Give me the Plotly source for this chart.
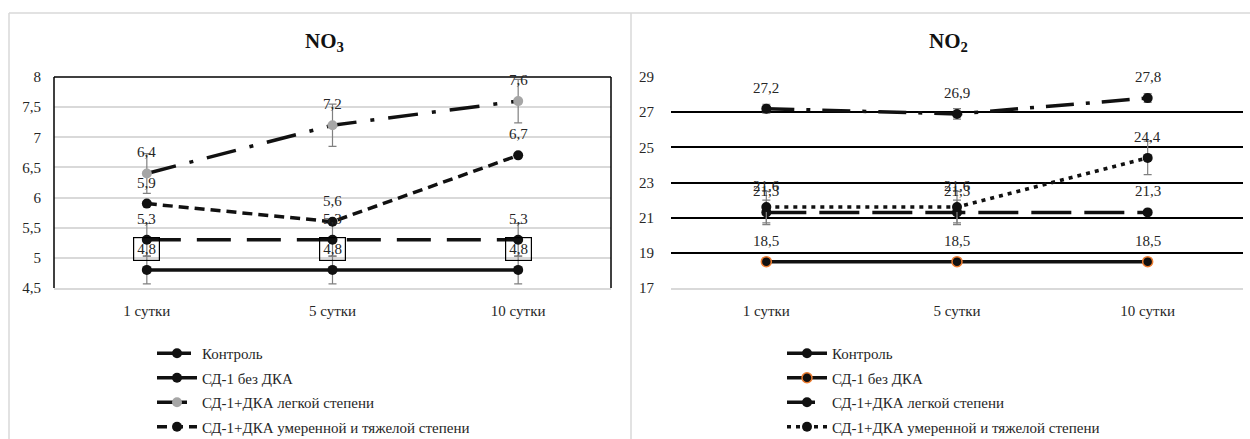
import plotly.graph_objects as go

categories = ["1 сутки", "5 сутки", "10 сутки"]
series_names = ["Контроль", "СД-1 без ДКА", "СД-1+ДКА легкой степени",
                "СД-1+ДКА умеренной и тяжелой степени"]

# NO3 panel
no3_control = [5.3, 5.3, 5.3]
no3_sd1 = [4.8, 4.8, 4.8]
no3_light = [6.4, 7.2, 7.6]
no3_severe = [5.9, 5.6, 6.7]
no3_control_err = [0.27, 0.27, 0.27]
no3_sd1_err = [0.23, 0.23, 0.23]
no3_light_err = [0.33, 0.35, 0.36]
no3_severe_err = [0, 0, 0]

# NO2 panel
no2_control = [21.3, 21.3, 21.3]
no2_sd1 = [18.5, 18.5, 18.5]
no2_light = [27.2, 26.9, 27.8]
no2_severe = [21.6, 21.6, 24.4]
no2_control_err = [0.7, 0.7, 0.1]
no2_sd1_err = [0, 0, 0]
no2_light_err = [0.25, 0.3, 0.25]
no2_severe_err = [0.9, 0.9, 0.95]

W, H = 1250, 439
FONT = "Liberation Serif"
BLACK = "#111111"
GRAY_ERR = "#808080"
TXT = "#262626"


def fmt(v):
    return f"{v:.1f}".replace(".", ",")


fig = go.Figure()


def add_series(y, err, name, xa, ya, legend, dash, mcolor, mline=None):
    fig.add_trace(go.Scatter(
        x=categories, y=y, name=name, xaxis=xa, yaxis=ya, legend=legend,
        mode="lines+markers",
        line=dict(color=BLACK, width=3.5, dash=dash),
        marker=dict(size=10, color=mcolor,
                    line=dict(color=mline or mcolor, width=1.5 if mline else 0)),
        error_y=dict(type="data", array=err, visible=True, color=GRAY_ERR,
                     thickness=1.2, width=4),
        legendgroup=name + legend, cliponaxis=False,
    ))


# left panel
add_series(no3_control, no3_control_err, series_names[0], "x", "y", "legend", "34px,16px", BLACK)
add_series(no3_sd1, no3_sd1_err, series_names[1], "x", "y", "legend", "solid", BLACK)
add_series(no3_light, no3_light_err, series_names[2], "x", "y", "legend", "30px,14px,4px,14px", "#a6a6a6")
add_series(no3_severe, no3_severe_err, series_names[3], "x", "y", "legend", "10px,6px", BLACK)

# right panel
add_series(no2_control, no2_control_err, series_names[0], "x2", "y2", "legend2", "40px,13px", BLACK)
add_series(no2_sd1, no2_sd1_err, series_names[1], "x2", "y2", "legend2", "solid", BLACK, "#ED7D31")
add_series(no2_light, no2_light_err, series_names[2], "x2", "y2", "legend2", "28px,12px,4px,12px", BLACK)
add_series(no2_severe, no2_severe_err, series_names[3], "x2", "y2", "legend2", "4px,5px", BLACK)

annotations = []


def add_labels(vals, xref, yref, boxed=False):
    for c, v in zip(categories, vals):
        a = dict(x=c, y=v, xref=xref, yref=yref, text=fmt(v), showarrow=False,
                 xanchor="center", yanchor="middle", yshift=21,
                 font=dict(family=FONT, size=15, color=TXT))
        if boxed:
            a.update(bordercolor="#000000", borderwidth=1.2, borderpad=3,
                     bgcolor="rgba(255,255,255,0)")
        annotations.append(a)


add_labels(no3_control, "x", "y")
add_labels(no3_sd1, "x", "y", boxed=True)
add_labels(no3_light, "x", "y")
add_labels(no3_severe, "x", "y")
add_labels(no2_control, "x2", "y2")
add_labels(no2_sd1, "x2", "y2")
add_labels(no2_light, "x2", "y2")
add_labels(no2_severe, "x2", "y2")

annotations.append(dict(x=0.485, y=1 - 42 / H, xref="x domain", yref="paper",
                        xanchor="center", yanchor="middle",
                        text="<b>NO<sub>3</sub></b>", showarrow=False,
                        font=dict(family=FONT, size=21, color="#111111")))
annotations.append(dict(x=0.485, y=1 - 42 / H, xref="x2 domain", yref="paper",
                        xanchor="center", yanchor="middle",
                        text="<b>NO<sub>2</sub></b>", showarrow=False,
                        font=dict(family=FONT, size=21, color="#111111")))

ydom = [1 - 288 / H, 1 - 77 / H]
tickfont = dict(family=FONT, size=15, color=TXT)

shapes = [
    # outer frame
    dict(type="line", xref="paper", yref="paper", x0=9 / W, x1=1, y0=1 - 13 / H, y1=1 - 13 / H,
         line=dict(color="#d9d9d9", width=1.5)),
    dict(type="line", xref="paper", yref="paper", x0=9 / W, x1=9 / W, y0=0, y1=1 - 13 / H,
         line=dict(color="#d9d9d9", width=1.5)),
    dict(type="line", xref="paper", yref="paper", x0=631 / W, x1=631 / W, y0=0, y1=1 - 13 / H,
         line=dict(color="#d9d9d9", width=1.5)),
    # left plot area border: left, top, right
    dict(type="line", xref="x domain", yref="y domain", x0=0, x1=0, y0=0, y1=1,
         line=dict(color="#000000", width=1.5)),
    dict(type="line", xref="x domain", yref="y domain", x0=0, x1=1, y0=1, y1=1,
         line=dict(color="#000000", width=1.5)),
    dict(type="line", xref="x domain", yref="y domain", x0=1, x1=1, y0=0, y1=1,
         line=dict(color="#000000", width=1.5)),
]

axis_common = dict(automargin=False, zeroline=False, tickfont=tickfont,
                   ticks="outside", tickcolor="rgba(0,0,0,0)")

fig.update_layout(
    width=W, height=H,
    margin=dict(l=0, r=0, t=0, b=0, pad=0, autoexpand=False),
    paper_bgcolor="white", plot_bgcolor="white",
    font=dict(family=FONT, size=14, color=TXT),
    xaxis=dict(domain=[54 / W, 611 / W], anchor="y", type="category",
               categoryorder="array", categoryarray=categories,
               range=[-0.5, 2.5], showgrid=False, ticklen=8,
               showline=True, linecolor="#d9d9d9", linewidth=1.5, **axis_common),
    yaxis=dict(domain=ydom, anchor="x", range=[4.5, 8],
               tickvals=[4.5, 5, 5.5, 6, 6.5, 7, 7.5, 8],
               ticktext=["4,5", "5", "5,5", "6", "6,5", "7", "7,5", "8"],
               showgrid=True, gridcolor="#d9d9d9", gridwidth=1.5, ticklen=9,
               **axis_common),
    xaxis2=dict(domain=[671 / W, 1243 / W], anchor="y2", type="category",
                categoryorder="array", categoryarray=categories,
                range=[-0.5, 2.5], showgrid=False, ticklen=8,
                showline=True, linecolor="#d9d9d9", linewidth=2, **axis_common),
    yaxis2=dict(domain=ydom, anchor="x2", range=[17, 29],
                tickvals=[17, 19, 21, 23, 25, 27, 29],
                showgrid=True, gridcolor="#000000", gridwidth=1.5, ticklen=13,
                **axis_common),
    legend=dict(x=152 / W, y=1 - 337 / H, xanchor="left", yanchor="top",
                font=dict(family=FONT, size=15, color=TXT),
                itemwidth=40, tracegroupgap=2, traceorder="grouped",
                bgcolor="rgba(0,0,0,0)"),
    legend2=dict(x=782 / W, y=1 - 337 / H, xanchor="left", yanchor="top",
                 font=dict(family=FONT, size=15, color=TXT),
                 itemwidth=40, tracegroupgap=2, traceorder="grouped",
                 bgcolor="rgba(0,0,0,0)"),
    annotations=annotations,
    shapes=shapes,
    showlegend=True,
)

fig.write_html(
    "out.html",
    config={"displayModeBar": False},
    post_script="document.body.style.margin='0px';document.body.style.overflow='hidden';",
)
